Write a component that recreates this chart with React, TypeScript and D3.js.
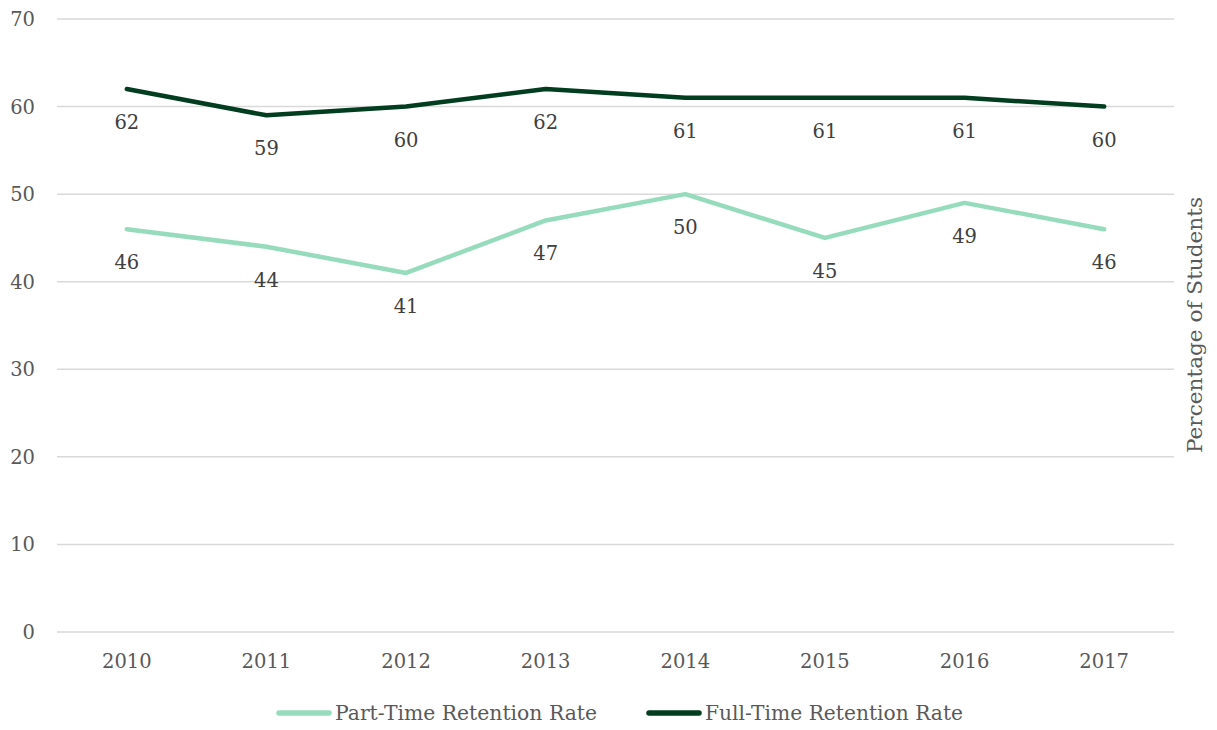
import React, { useEffect } from "react";
import * as d3 from "d3";

const years = ["2010", "2011", "2012", "2013", "2014", "2015", "2016", "2017"];
const partTime = [46, 44, 41, 47, 50, 45, 49, 46];
const fullTime = [62, 59, 60, 62, 61, 61, 61, 60];
const yTicks = [0, 10, 20, 30, 40, 50, 60, 70];

const W = 1217;
const H = 730;
const left = 57;
const right = 1174;
const top = 19;
const bottom = 632;
const font = "DejaVu Serif, serif";
const fs = 19.5;
const textColor = "#595959";
const lightColor = "#96dcbc";
const darkColor = "#013d1e";

export default function App() {
  useEffect(() => {
    document.body.style.margin = "0";
  }, []);

  const x = d3.scaleBand<string>().domain(years).range([left, right]);
  const y = d3.scaleLinear().domain([0, 70]).range([bottom, top]);
  const cx = (d: string) => (x(d) as number) + x.bandwidth() / 2;

  const line = d3
    .line<number>()
    .x((_, i) => cx(years[i]))
    .y((v) => y(v));

  const series = [
    { name: "Part-Time Retention Rate", values: partTime, color: lightColor },
    { name: "Full-Time Retention Rate", values: fullTime, color: darkColor },
  ];

  const legendX = [276, 646];
  const legendTextLen = [262, 258];

  return (
    <svg width={W} height={H} style={{ display: "block", fontFamily: font }}>
      <rect width={W} height={H} fill="#ffffff" />
      {yTicks.map((t) => (
        <g key={t}>
          <line x1={left} x2={right} y1={y(t)} y2={y(t)} stroke="#d9d9d9" strokeWidth={1.5} />
          <text x={35} y={y(t)} dy="0.36em" textAnchor="end" fontSize={fs} fill={textColor}>
            {t}
          </text>
        </g>
      ))}
      {years.map((yr) => (
        <text key={yr} x={cx(yr)} y={661} dy="0.36em" textAnchor="middle" fontSize={fs} fill={textColor}>
          {yr}
        </text>
      ))}
      {series.map((s) => (
        <g key={s.name}>
          <path
            d={line(s.values) || ""}
            fill="none"
            stroke={s.color}
            strokeWidth={4.5}
            strokeLinecap="round"
            strokeLinejoin="round"
          />
          {s.values.map((v, i) => (
            <text
              key={i}
              x={cx(years[i])}
              y={y(v) + 33}
              dy="0.36em"
              textAnchor="middle"
              fontSize={fs}
              fill="#404040"
            >
              {v}
            </text>
          ))}
        </g>
      ))}
      <text
        transform={`translate(1202, 325) rotate(-90)`}
        textAnchor="middle"
        fontSize={20}
        fill={textColor}
        textLength={256}
        lengthAdjust="spacingAndGlyphs"
      >
        Percentage of Students
      </text>
      {series.map((s, i) => (
        <g key={s.name} transform={`translate(${legendX[i]}, 713)`}>
          <line x1={3} x2={53} y1={0} y2={0} stroke={s.color} strokeWidth={5.5} strokeLinecap="round" />
          <text
            x={59}
            y={0}
            dy="0.36em"
            fontSize={20}
            fill={textColor}
            textLength={legendTextLen[i]}
            lengthAdjust="spacingAndGlyphs"
          >
            {s.name}
          </text>
        </g>
      ))}
    </svg>
  );
}
